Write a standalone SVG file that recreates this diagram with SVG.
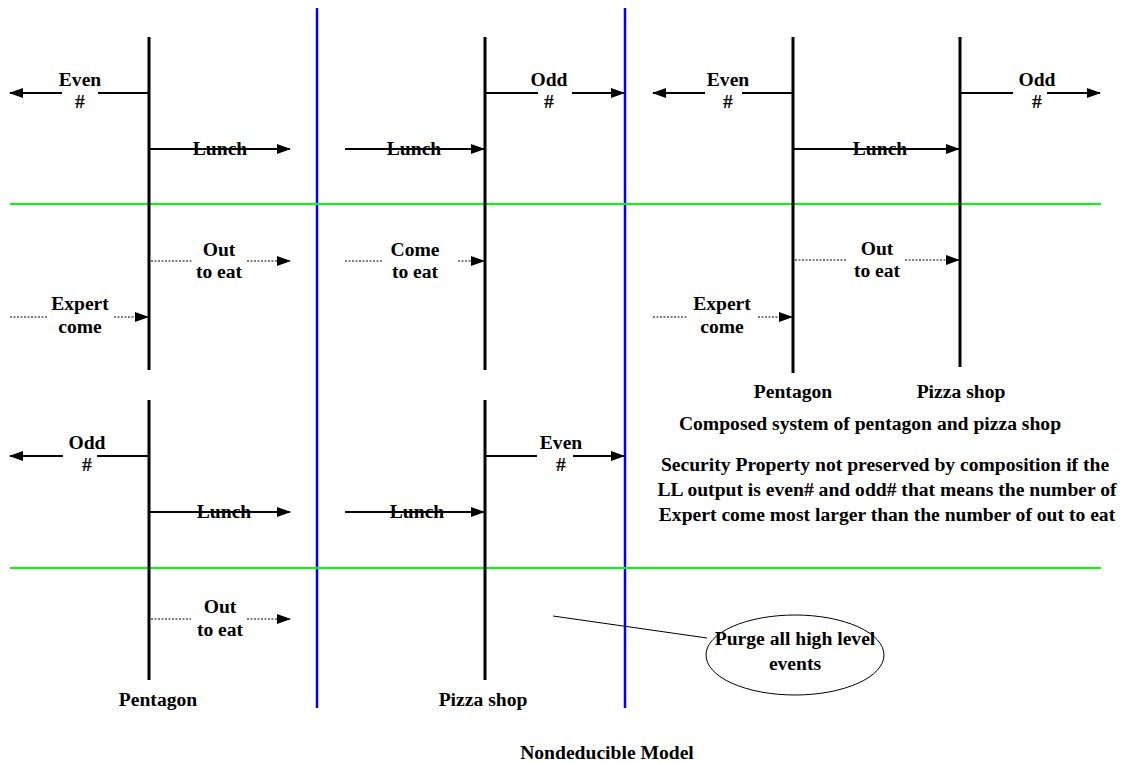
<svg xmlns="http://www.w3.org/2000/svg" width="1132" height="763" viewBox="0 0 1132 763">
<style>
text{font-family:"Liberation Serif","Times New Roman",serif;font-weight:bold;font-size:19.6px;fill:#000;text-anchor:middle}
.life{stroke:#000;stroke-width:3;fill:none}
.solid{stroke:#000;stroke-width:2;fill:none}
.dot{stroke:#000;stroke-width:1;stroke-dasharray:2,1.5;fill:none}
.blue{stroke:#0000FF;stroke-width:2.5}
.green{stroke:#00FF00;stroke-width:2}
</style>
<defs>
<marker id="ah" markerUnits="userSpaceOnUse" markerWidth="14" markerHeight="10" refX="13" refY="5" orient="auto">
<path d="M0,0 L14,5 L0,10 z" fill="#000"/>
</marker>
</defs>
<rect width="1132" height="763" fill="#fff"/>
<g id="dividers">
<line class="blue" x1="317" y1="8" x2="317" y2="708"/>
<line class="blue" x1="625" y1="8" x2="625" y2="708"/>
<line class="green" x1="10" y1="204" x2="1101" y2="204"/>
<line class="green" x1="10" y1="568" x2="1101" y2="568"/>
</g>
<g id="pentagon-top"><line class="life" x1="149" y1="37" x2="149" y2="370"/></g>
<g id="pizza-top"><line class="life" x1="485" y1="37" x2="485" y2="370"/></g>
<g id="pentagon-bottom"><line class="life" x1="149" y1="400" x2="149" y2="680"/><text x="158" y="706">Pentagon</text></g>
<g id="pizza-bottom"><line class="life" x1="485" y1="400" x2="485" y2="680"/><text x="483" y="706">Pizza shop</text></g>
<g id="pentagon-composed"><line class="life" x1="793" y1="37" x2="793" y2="373"/><text x="793" y="398">Pentagon</text></g>
<g id="pizza-composed"><line class="life" x1="960" y1="37" x2="960" y2="367"/><text x="961" y="398">Pizza shop</text></g>
<g id="connectors">
<line class="solid" x1="149" y1="93" x2="98" y2="93"/>
<line class="solid" x1="62" y1="93" x2="10" y2="93" marker-end="url(#ah)"/>
<line class="solid" x1="149" y1="149" x2="290" y2="149" marker-end="url(#ah)"/>
<line class="dot" x1="151" y1="261" x2="192" y2="261"/>
<line class="dot" x1="247" y1="261" x2="290" y2="261" marker-end="url(#ah)"/>
<line class="dot" x1="10" y1="317" x2="47" y2="317"/>
<line class="dot" x1="114" y1="317" x2="148" y2="317" marker-end="url(#ah)"/>
<line class="solid" x1="485" y1="93" x2="538" y2="93"/>
<line class="solid" x1="572" y1="93" x2="624" y2="93" marker-end="url(#ah)"/>
<line class="solid" x1="345" y1="149" x2="484" y2="149" marker-end="url(#ah)"/>
<line class="dot" x1="345" y1="261" x2="383" y2="261"/>
<line class="dot" x1="458" y1="261" x2="484" y2="261" marker-end="url(#ah)"/>
<line class="solid" x1="793" y1="93" x2="742" y2="93"/>
<line class="solid" x1="705" y1="93" x2="653" y2="93" marker-end="url(#ah)"/>
<line class="solid" x1="793" y1="149" x2="959" y2="149" marker-end="url(#ah)"/>
<line class="solid" x1="960" y1="93" x2="1013" y2="93"/>
<line class="solid" x1="1047" y1="93" x2="1100" y2="93" marker-end="url(#ah)"/>
<line class="dot" x1="795" y1="260" x2="847" y2="260"/>
<line class="dot" x1="905" y1="260" x2="959" y2="260" marker-end="url(#ah)"/>
<line class="dot" x1="653" y1="317" x2="688" y2="317"/>
<line class="dot" x1="758" y1="317" x2="792" y2="317" marker-end="url(#ah)"/>
<line class="solid" x1="149" y1="456" x2="97" y2="456"/>
<line class="solid" x1="63" y1="456" x2="10" y2="456" marker-end="url(#ah)"/>
<line class="solid" x1="149" y1="512" x2="290" y2="512" marker-end="url(#ah)"/>
<line class="dot" x1="151" y1="619" x2="191" y2="619"/>
<line class="dot" x1="247" y1="619" x2="290" y2="619" marker-end="url(#ah)"/>
<line class="solid" x1="485" y1="456" x2="537" y2="456"/>
<line class="solid" x1="573" y1="456" x2="624" y2="456" marker-end="url(#ah)"/>
<line class="solid" x1="345" y1="512" x2="484" y2="512" marker-end="url(#ah)"/>
<line stroke="#000" stroke-width="1" x1="553" y1="616" x2="707" y2="638"/>
</g>
<g id="labels">
<text x="80" y="86">Even</text><text x="80" y="108">#</text>
<text x="220" y="155">Lunch</text>
<text x="219" y="256">Out</text><text x="219" y="278">to eat</text>
<text x="80" y="310">Expert</text><text x="80" y="333">come</text>
<text x="549" y="86">Odd</text><text x="549" y="108">#</text>
<text x="414" y="155">Lunch</text>
<text x="415" y="256">Come</text><text x="415" y="278">to eat</text>
<text x="728" y="86">Even</text><text x="728" y="108">#</text>
<text x="880" y="155">Lunch</text>
<text x="1037" y="86">Odd</text><text x="1037" y="108">#</text>
<text x="877" y="255">Out</text><text x="877" y="277">to eat</text>
<text x="722" y="310">Expert</text><text x="722" y="333">come</text>
<text x="87" y="449">Odd</text><text x="87" y="471">#</text>
<text x="224" y="518">Lunch</text>
<text x="561" y="449">Even</text><text x="561" y="471">#</text>
<text x="417" y="518">Lunch</text>
<text x="220" y="613">Out</text><text x="220" y="636">to eat</text>
</g>
<g id="purge">
<ellipse cx="795" cy="655" rx="89" ry="40" fill="none" stroke="#000" stroke-width="1"/>
<text x="795" y="645">Purge all high level</text>
<text x="795" y="670">events</text>
</g>
<g id="notes">
<text x="870" y="430">Composed system of pentagon and pizza shop</text>
<text x="885" y="471">Security Property not preserved by composition if the</text>
<text x="887" y="496">LL output is even# and odd# that means the number of</text>
<text x="887" y="521">Expert come most larger than the number of out to eat</text>
<text x="607" y="759">Nondeducible Model</text>
</g>
</svg>
